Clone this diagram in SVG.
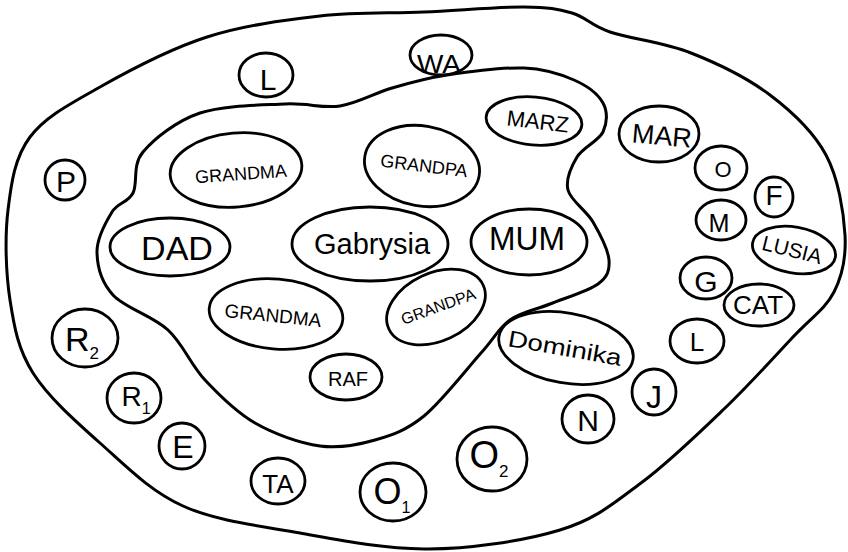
<svg xmlns="http://www.w3.org/2000/svg" width="848" height="552" viewBox="0 0 848 552">
<style>
.b{fill:none;stroke:#000;stroke-width:3;stroke-linecap:round;stroke-linejoin:round}
.n{fill:none;stroke:#000;stroke-width:2.8}
text{font-family:"Liberation Sans",Arial,sans-serif;fill:#000;text-anchor:middle}
</style>
<rect width="848" height="552" fill="#fff"/>
<g id="regions">
<path id="outer" class="b" d="M424,12 C458,10.5 499.3,6.8 524,7 C548.7,7.2 557.7,8.8 572,13 C586.3,17.2 590.2,25.3 610,32 C629.8,38.7 664.3,42.5 691,53 C717.7,63.5 747.5,78 770,95 C792.5,112 813.5,131.7 826,155 C838.5,178.3 843.7,212.2 845,235 C846.3,257.8 842.7,275 834,292 C825.3,309 811.3,317.5 793,337 C774.7,356.5 749.3,384.7 724,409 C698.7,433.3 668.3,462.8 641,483 C613.7,503.2 596.2,519 560,530 C523.8,541 467.3,549.5 424,549 C380.7,548.5 340.2,540.2 300,533 C259.8,525.8 216.3,521 183,506 C149.7,491 125,465.2 100,443 C75,420.8 48,396.8 33,373 C18,349.2 14.2,327.2 10,300 C5.8,272.8 4.7,237.2 8,210 C11.3,182.8 14.7,157.5 30,137 C45.3,116.5 70.5,103.7 100,87 C129.5,70.3 170.3,48.8 207,37 C243.7,25.2 283.8,20.2 320,16 C356.2,11.8 390,13.5 424,12 Z"/>
<path id="inner" class="b" d="M447,75 C469,71.7 502.8,67.2 524,68 C545.2,68.8 560.8,74.2 574,80 C587.2,85.8 598.2,94.3 603,103 C607.8,111.7 607.3,123 603,132 C598.7,141 582.8,147.3 577,157 C571.2,166.7 565.3,179.2 568,190 C570.7,200.8 586.2,210.3 593,222 C599.8,233.7 608.2,249.7 609,260 C609.8,270.3 607.8,276.7 598,284 C588.2,291.3 564.7,298 550,304 C535.3,310 521.5,311.8 510,320 C498.5,328.2 495.3,337 481,353 C466.7,369 441.7,401.5 424,416 C406.3,430.5 392.3,435 375,440 C357.7,445 340,448.8 320,446 C300,443.2 274.2,434 255,423 C235.8,412 219.5,395.5 205,380 C190.5,364.5 183.3,344.2 168,330 C152.7,315.8 124.8,308 113,295 C101.2,282 97.2,265.8 97,252 C96.8,238.2 106,221.8 112,212 C118,202.2 127.8,203 133,193 C138.2,183 131.8,165.3 143,152 C154.2,138.7 176.3,121 200,113 C223.7,105 261.7,105.2 285,104 C308.3,102.8 322.2,108.7 340,106 C357.8,103.3 374.2,93.2 392,88 C409.8,82.8 425,78.3 447,75 Z"/>
</g>
<g id="nL1"><ellipse class="n" cx="266" cy="75" rx="27" ry="22"/><text x="268" y="90" font-size="30">L</text></g>
<g id="nWA"><ellipse class="n" cx="441" cy="55" rx="31" ry="20"/><text x="439" y="73" font-size="26" textLength="44" lengthAdjust="spacingAndGlyphs">WA</text></g>
<g id="nP"><ellipse class="n" cx="65" cy="180" rx="20" ry="20"/><text x="66" y="192" font-size="30">P</text></g>
<g id="nGrandma1"><ellipse class="n" cx="236" cy="170" rx="66" ry="37" transform="rotate(-5 236 170)"/><text x="241" y="180" font-size="18" transform="rotate(-4 241 174)">GRANDMA</text></g>
<g id="nGrandpa1"><ellipse class="n" cx="422" cy="166" rx="58" ry="40" transform="rotate(10 422 166)"/><text x="424" y="172" font-size="18" transform="rotate(7 424 166)">GRANDPA</text></g>
<g id="nDad"><ellipse class="n" cx="170" cy="247" rx="60" ry="29"/><text x="177" y="260" font-size="34">DAD</text></g>
<g id="nGab"><ellipse class="n" cx="370" cy="244" rx="78" ry="37"/><text x="372" y="254" font-size="29">Gabrysia</text></g>
<g id="nMum"><ellipse class="n" cx="529" cy="242" rx="58" ry="33"/><text x="527" y="250" font-size="33" textLength="76" lengthAdjust="spacingAndGlyphs">MUM</text></g>
<g id="nMarz"><ellipse class="n" cx="534" cy="121" rx="48" ry="24" transform="rotate(5 534 121)"/><text x="538" y="129" font-size="22" transform="rotate(7 538 121)">MARZ</text></g>
<g id="nMar"><ellipse class="n" cx="659" cy="134" rx="40" ry="28"/><text x="662" y="145" font-size="27" transform="rotate(5 662 135)">MAR</text></g>
<g id="nO"><ellipse class="n" cx="721" cy="168" rx="26" ry="22"/><text x="723" y="177" font-size="22">O</text></g>
<g id="nF"><ellipse class="n" cx="774" cy="197" rx="19" ry="20"/><text x="774" y="205" font-size="28">F</text></g>
<g id="nM"><ellipse class="n" cx="721" cy="220" rx="25" ry="20"/><text x="719" y="232" font-size="26" textLength="21" lengthAdjust="spacingAndGlyphs">M</text></g>
<g id="nLusia"><ellipse class="n" cx="794" cy="250" rx="42" ry="23" transform="rotate(10 794 250)"/><text x="792" y="257" font-size="21" transform="rotate(14 792 250)">LUSIA</text></g>
<g id="nG"><ellipse class="n" cx="706" cy="278" rx="26" ry="21"/><text x="706" y="292" font-size="30">G</text></g>
<g id="nCat"><ellipse class="n" cx="759" cy="305" rx="35" ry="21"/><text x="758" y="314" font-size="26">CAT</text></g>
<g id="nL2"><ellipse class="n" cx="697" cy="341" rx="27" ry="22"/><text x="697" y="351" font-size="26">L</text></g>
<g id="nJ"><ellipse class="n" cx="654" cy="392" rx="22" ry="23"/><text x="654" y="408" font-size="32">J</text></g>
<g id="nN"><ellipse class="n" cx="588" cy="419" rx="26" ry="24"/><text x="588" y="431" font-size="30">N</text></g>
<g id="nO2"><ellipse class="n" cx="492" cy="459" rx="35" ry="32"/><text x="489" y="468" font-size="38">O<tspan font-size="17" dy="9">2</tspan></text></g>
<g id="nDom"><ellipse class="n" cx="566" cy="348" rx="68" ry="35" transform="rotate(10 566 348)"/><text x="565" y="356" font-size="23" textLength="115" lengthAdjust="spacingAndGlyphs" transform="rotate(10 565 348)">Dominika</text></g>
<g id="nGrandpa2"><ellipse class="n" cx="436" cy="307" rx="52" ry="34" transform="rotate(-25 436 307)"/><text x="438" y="312" font-size="16" transform="rotate(-20 438 306)">GRANDPA</text></g>
<g id="nGrandma2"><ellipse class="n" cx="276" cy="314" rx="67" ry="35" transform="rotate(5 276 314)"/><text x="273" y="322" font-size="19" transform="rotate(6 273 315)">GRANDMA</text></g>
<g id="nRaf"><ellipse class="n" cx="346" cy="377" rx="36" ry="23"/><text x="348" y="386" font-size="20">RAF</text></g>
<g id="nR2"><ellipse class="n" cx="85" cy="338" rx="33" ry="29"/><text x="82" y="351" font-size="34">R<tspan font-size="17" dy="8">2</tspan></text></g>
<g id="nR1"><ellipse class="n" cx="134" cy="398" rx="27" ry="25"/><text x="136" y="406" font-size="28">R<tspan font-size="16" dy="8">1</tspan></text></g>
<g id="nE"><ellipse class="n" cx="182" cy="446" rx="23" ry="23"/><text x="183" y="458" font-size="32">E</text></g>
<g id="nTA"><ellipse class="n" cx="278" cy="481" rx="27" ry="23"/><text x="278" y="493" font-size="26">TA</text></g>
<g id="nO1"><ellipse class="n" cx="393" cy="492" rx="33" ry="29"/><text x="392" y="504" font-size="36">O<tspan font-size="16" dy="9">1</tspan></text></g>
<g id="connectors"/>
</svg>
